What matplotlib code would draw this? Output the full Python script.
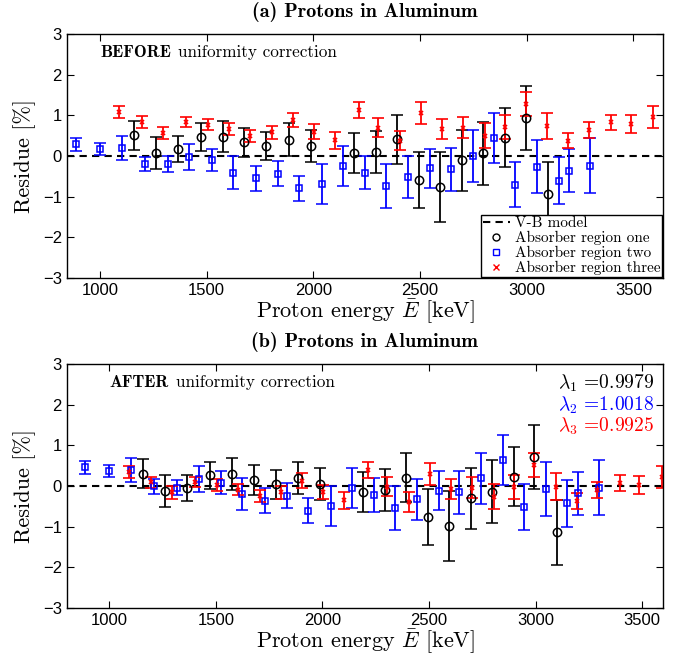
import numpy as np
import matplotlib
matplotlib.use('Agg')
import matplotlib.pyplot as plt
from matplotlib.lines import Line2D

plt.rcParams['mathtext.fontset'] = 'cm'
plt.rcParams['font.family'] = ['Liberation Sans', 'DejaVu Sans']
plt.rcParams['axes.unicode_minus'] = True

# proton energies per absorber region [keV]
e_one = [1158, 1262, 1366, 1472, 1575, 1677, 1780, 1884, 1987, 2189,
         2292, 2394, 2496, 2595, 2696, 2797, 2897, 2994, 3099]
e_two = [887, 999, 1103, 1211, 1317, 1419, 1525, 1624, 1732, 1834,
         1934, 2039, 2138, 2241, 2342, 2444, 2546, 2643, 2746, 2848,
         2947, 3049, 3149, 3200, 3298]
e_three = [1091, 1197, 1296, 1401, 1505, 1606, 1705, 1807, 1906, 2005,
           2103, 2216, 2305, 2408, 2503, 2604, 2703, 2803, 2897, 2994,
           3095, 3194, 3290, 3396, 3488, 3592]

# uncertainties [%]
err_one = [0.36, 0.39, 0.32, 0.34, 0.39, 0.36, 0.35, 0.40, 0.40, 0.49,
           0.52, 0.60, 0.69, 0.86, 0.75, 0.77, 0.72, 0.79, 0.80]
err_two = [0.16, 0.15, 0.30, 0.18, 0.19, 0.32, 0.28, 0.40, 0.31, 0.31,
           0.31, 0.49, 0.49, 0.41, 0.54, 0.51, 0.48, 0.53, 0.63, 0.61,
           0.56, 0.66, 0.58, 0.53, 0.68]
err_three = [0.14, 0.14, 0.15, 0.12, 0.14, 0.14, 0.15, 0.16, 0.18, 0.18,
             0.21, 0.20, 0.23, 0.24, 0.27, 0.25, 0.26, 0.30, 0.29, 0.29,
             0.33, 0.19, 0.20, 0.19, 0.22, 0.27]

# residues before uniformity correction [%]
before_one = [0.51, 0.07, 0.18, 0.46, 0.48, 0.34, 0.25, 0.40, 0.25, 0.07,
              0.10, 0.41, -0.58, -0.76, -0.10, 0.07, 0.45, 0.93, -0.94]
before_two = [0.29, 0.17, 0.20, -0.20, -0.20, -0.02, -0.10, -0.41, -0.55, -0.43,
              -0.79, -0.68, -0.24, -0.41, -0.73, -0.51, -0.30, -0.33, 0.00, 0.45,
              -0.70, -0.26, -0.61, -0.36, -0.24]
before_three = [1.08, 0.84, 0.57, 0.84, 0.77, 0.66, 0.50, 0.58, 0.89, 0.60,
                0.39, 1.14, 0.70, 0.38, 1.05, 0.67, 0.70, 0.50, 0.72, 1.28,
                0.74, 0.38, 0.64, 0.83, 0.78, 0.97]

# residues after uniformity correction [%]
after_one = [0.30, -0.13, -0.04, 0.26, 0.29, 0.15, 0.04, 0.20, 0.05, -0.15,
             -0.10, 0.20, -0.77, -0.98, -0.30, -0.14, 0.23, 0.72, -1.14]
after_two = [0.46, 0.36, 0.40, -0.01, -0.04, 0.17, 0.08, -0.20, -0.36, -0.24,
             -0.61, -0.50, -0.05, -0.22, -0.55, -0.33, -0.12, -0.16, 0.19, 0.64,
             -0.52, -0.07, -0.43, -0.18, -0.04]
after_three = [0.34, 0.09, -0.16, 0.10, 0.02, -0.09, -0.24, -0.16, 0.13, -0.15,
               -0.35, 0.39, -0.02, -0.39, 0.29, -0.08, -0.04, -0.26, -0.03, 0.52,
               -0.02, -0.37, -0.10, 0.07, 0.02, 0.21]

lambdas = ['0.9979', '1.0018', '0.9925']

fig = plt.figure(figsize=(6.85, 6.62), dpi=100)
ax1 = fig.add_axes([0.0974, 0.580, 0.871, 0.3686])
ax2 = fig.add_axes([0.0974, 0.0816, 0.871, 0.3686])

serif = 'cmr10'
bold = 'cmb10'


def draw(ax, r1, r2, r3, xlim, title):
    ax.axhline(0, color='k', linestyle='--', linewidth=1.5, dashes=(3.5, 2.5),
               zorder=1)
    kw = dict(linestyle='none', elinewidth=1.3, capsize=4, capthick=1.3)
    ax.errorbar(e_one, r1, yerr=err_one, color='k', marker='o', ms=6,
                mfc='none', mec='k', mew=1.1, **kw)
    ax.errorbar(e_two, r2, yerr=err_two, color='b', marker='s', ms=4,
                mfc='none', mec='b', mew=1.1, **kw)
    ax.errorbar(e_three, r3, yerr=err_three, color='r', marker='x', ms=3.5,
                mew=1.2, **kw)
    ax.set_xlim(*xlim)
    ax.set_ylim(-3, 3)
    ax.set_xticks([1000, 1500, 2000, 2500, 3000, 3500])
    ax.set_yticks([-3, -2, -1, 0, 1, 2, 3])
    ax.tick_params(direction='in', top=True, right=True, length=5,
                   labelsize=12, width=0.8)
    for s in ax.spines.values():
        s.set_linewidth(1.0)
    ax.set_xlabel(r'Proton energy $\bar{E}$ [keV]', family=serif, fontsize=16,
                  labelpad=0)
    ax.set_ylabel('Residue [%]', family=serif, fontsize=16, labelpad=5)
    ax.set_title(title, family=bold, fontsize=14.5, pad=12)


draw(ax1, before_one, before_two, before_three, (844, 3640),
     '(a) Protons in Aluminum')
draw(ax2, after_one, after_two, after_three, (800, 3600),
     '(b) Protons in Aluminum')

ax1.text(0.056, 0.925, 'BEFORE', family=bold, fontsize=12.3,
         transform=ax1.transAxes, va='center')
ax1.text(0.186, 0.925, 'uniformity correction', family=serif, fontsize=12.3,
         transform=ax1.transAxes, va='center')
ax2.text(0.072, 0.925, 'AFTER', family=bold, fontsize=12.3,
         transform=ax2.transAxes, va='center')
ax2.text(0.184, 0.925, 'uniformity correction', family=serif, fontsize=12.3,
         transform=ax2.transAxes, va='center')

for i, (lam, c) in enumerate(zip(lambdas, ['k', 'b', 'r'])):
    ax2.text(0.985, 0.92 - i * 0.088, r'$\lambda_%d$ =%s' % (i + 1, lam),
             color=c, fontsize=14, family=serif, transform=ax2.transAxes,
             ha='right', va='center')

handles = [
    Line2D([], [], color='k', linestyle='--', linewidth=1.5, dashes=(3.5, 2.5)),
    Line2D([], [], color='k', marker='o', ms=5, mfc='none', mew=1.0, linestyle='none'),
    Line2D([], [], color='b', marker='s', ms=4, mfc='none', mew=1.0, linestyle='none'),
    Line2D([], [], color='r', marker='x', ms=4, mew=1.0, linestyle='none'),
]
labels = ['V-B model', 'Absorber region one', 'Absorber region two',
          'Absorber region three']
leg = ax1.legend(handles, labels, loc='lower right',
                 prop={'family': serif, 'size': 11},
                 fancybox=False, edgecolor='k', framealpha=1, borderpad=0.1,
                 labelspacing=0.05, handlelength=1.8, handletextpad=0.3,
                 borderaxespad=0.1, numpoints=1)
leg.get_frame().set_linewidth(1.0)

fig.savefig('out.png', dpi=100)
